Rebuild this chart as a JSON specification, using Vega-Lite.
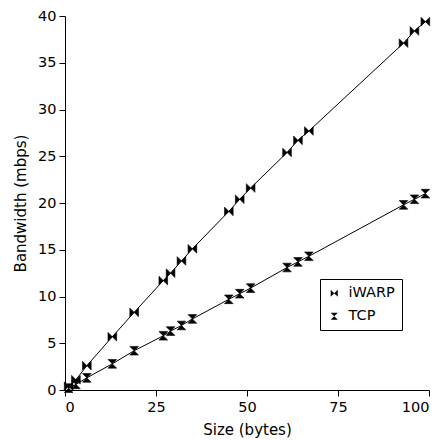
{
  "$schema": "https://vega.github.io/schema/vega-lite/v6.json",
  "width": 364,
  "height": 374,
  "autosize": {"type": "none"},
  "padding": {"left": 65, "top": 16, "right": 15, "bottom": 50},
  "background": "white",
  "config": {
    "font": "DejaVu Sans",
    "view": {"stroke": null},
    "axis": {
      "grid": false,
      "domainColor": "black",
      "tickColor": "black",
      "labelColor": "black",
      "titleColor": "black",
      "labelFontSize": 14.5,
      "titleFontSize": 15,
      "titleFontWeight": "normal",
      "tickSize": 6,
      "labelPadding": 3
    }
  },
  "data": {
    "values": [
      {"size": 1, "bw": 0.4, "proto": "iWARP"},
      {"size": 3, "bw": 1.1, "proto": "iWARP"},
      {"size": 6, "bw": 2.6, "proto": "iWARP"},
      {"size": 13, "bw": 5.7, "proto": "iWARP"},
      {"size": 19, "bw": 8.3, "proto": "iWARP"},
      {"size": 27, "bw": 11.7, "proto": "iWARP"},
      {"size": 29, "bw": 12.5, "proto": "iWARP"},
      {"size": 32, "bw": 13.8, "proto": "iWARP"},
      {"size": 35, "bw": 15.1, "proto": "iWARP"},
      {"size": 45, "bw": 19.1, "proto": "iWARP"},
      {"size": 48, "bw": 20.4, "proto": "iWARP"},
      {"size": 51, "bw": 21.6, "proto": "iWARP"},
      {"size": 61, "bw": 25.4, "proto": "iWARP"},
      {"size": 64, "bw": 26.7, "proto": "iWARP"},
      {"size": 67, "bw": 27.7, "proto": "iWARP"},
      {"size": 93, "bw": 37.1, "proto": "iWARP"},
      {"size": 96, "bw": 38.4, "proto": "iWARP"},
      {"size": 99, "bw": 39.4, "proto": "iWARP"},
      {"size": 1, "bw": 0.2, "proto": "TCP"},
      {"size": 3, "bw": 0.6, "proto": "TCP"},
      {"size": 6, "bw": 1.3, "proto": "TCP"},
      {"size": 13, "bw": 2.8, "proto": "TCP"},
      {"size": 19, "bw": 4.2, "proto": "TCP"},
      {"size": 27, "bw": 5.8, "proto": "TCP"},
      {"size": 29, "bw": 6.3, "proto": "TCP"},
      {"size": 32, "bw": 6.9, "proto": "TCP"},
      {"size": 35, "bw": 7.6, "proto": "TCP"},
      {"size": 45, "bw": 9.7, "proto": "TCP"},
      {"size": 48, "bw": 10.3, "proto": "TCP"},
      {"size": 51, "bw": 10.9, "proto": "TCP"},
      {"size": 61, "bw": 13.1, "proto": "TCP"},
      {"size": 64, "bw": 13.7, "proto": "TCP"},
      {"size": 67, "bw": 14.3, "proto": "TCP"},
      {"size": 93, "bw": 19.8, "proto": "TCP"},
      {"size": 96, "bw": 20.4, "proto": "TCP"},
      {"size": 99, "bw": 21.0, "proto": "TCP"}
    ]
  },
  "encoding": {
    "x": {
      "field": "size", "type": "quantitative",
      "scale": {"domain": [0, 100], "nice": false},
      "axis": {"values": [0, 25, 50, 75, 100], "title": "Size (bytes)", "titlePadding": 9, "labelPadding": 4}
    },
    "y": {
      "field": "bw", "type": "quantitative",
      "scale": {"domain": [0, 40], "nice": false},
      "axis": {"values": [0, 5, 10, 15, 20, 25, 30, 35, 40], "title": "Bandwidth (mbps)", "titlePadding": 9}
    }
  },
  "layer": [
    {
      "mark": {"type": "line", "color": "black", "strokeWidth": 1},
      "encoding": {"detail": {"field": "proto"}}
    },
    {
      "mark": {"type": "point", "filled": true, "color": "black", "opacity": 1, "size": 75, "strokeWidth": 0.6, "stroke": "black"},
      "encoding": {
        "shape": {
          "field": "proto", "type": "nominal",
          "scale": {
            "domain": ["iWARP", "TCP"],
            "range": ["M-1,-1L1,1L1,-1L-1,1Z", "M-1,-1L1,-1L-1,1L1,1Z"]
          },
          "legend": {
            "title": null,
            "orient": "none",
            "legendX": 255,
            "legendY": 263,
            "strokeColor": "black",
            "fillColor": "white",
            "padding": 7,
            "labelFontSize": 14.5,
            "labelColor": "black",
            "symbolFillColor": "black",
            "symbolStrokeColor": "black",
            "symbolSize": 50,
            "symbolStrokeWidth": 0.5,
            "rowPadding": 8,
            "labelOffset": 7,
            "labelLimit": 200
          }
        }
      }
    }
  ]
}
